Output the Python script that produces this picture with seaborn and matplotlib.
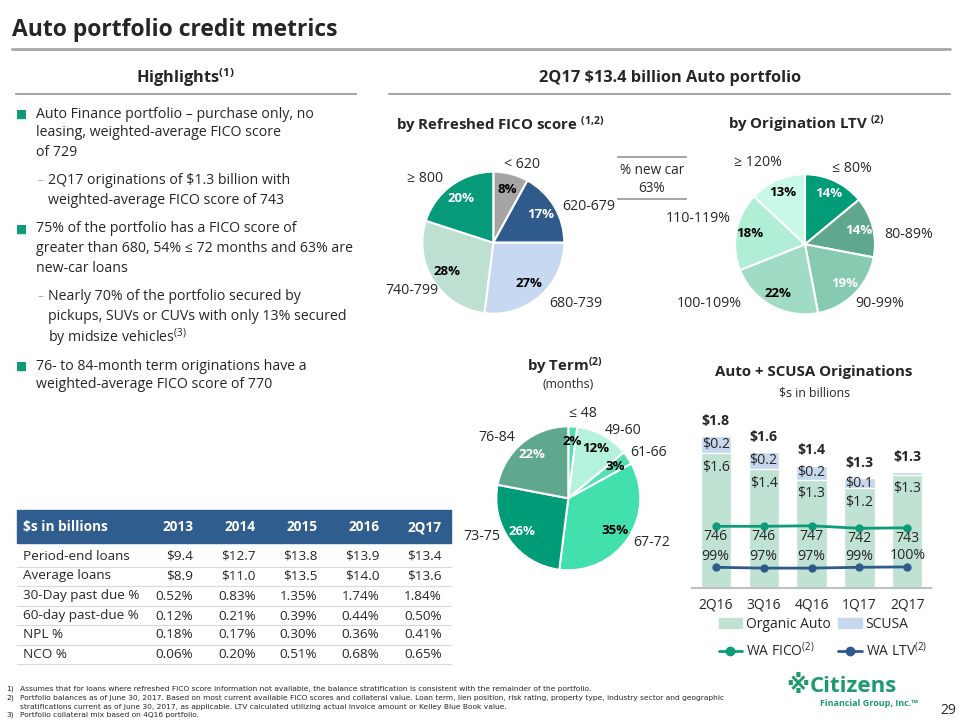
import numpy as np
import pandas as pd
import matplotlib
matplotlib.use("Agg")
import matplotlib.pyplot as plt
import seaborn as sns
from matplotlib.patches import Rectangle, Patch
from matplotlib.lines import Line2D

# ---- data ----
fico_labels = ["< 620", "620-679", "680-739", "740-799", "≥ 800"]
fico_pct = [8, 17, 27, 28, 20]
ltv_labels = ["≤ 80%", "80-89%", "90-99%", "100-109%", "110-119%", "≥ 120%"]
ltv_pct = [14, 14, 19, 22, 18, 13]
term_labels = ["≤ 48", "49-60", "61-66", "67-72", "73-75", "76-84"]
term_pct = [2, 12, 3, 35, 26, 22]

quarters = ["2Q16", "3Q16", "4Q16", "1Q17", "2Q17"]
organic = [1.60, 1.41, 1.28, 1.18, 1.34]
scusa = [0.20, 0.20, 0.17, 0.12, 0.03]
total_labels = ["$1.8", "$1.6", "$1.4", "$1.3", "$1.3"]
scusa_labels = ["$0.2", "$0.2", "$0.2", "$0.1", ""]
organic_labels = ["$1.6", "$1.4", "$1.3", "$1.2", "$1.3"]
wa_fico = [746, 746, 747, 742, 743]
wa_ltv = [99, 97, 97, 99, 100]

years = ["2013", "2014", "2015", "2016", "2Q17"]
row_names = ["Period-end loans", "Average loans", "30-Day past due %",
             "60-day past-due %", "NPL %", "NCO %"]
period_end = [9.4, 12.7, 13.8, 13.9, 13.4]
avg_loans = [8.9, 11.0, 13.5, 14.0, 13.6]
dpd30 = [0.52, 0.83, 1.35, 1.74, 1.84]
dpd60 = [0.12, 0.21, 0.39, 0.44, 0.50]
npl = [0.18, 0.17, 0.30, 0.36, 0.41]
nco = [0.06, 0.20, 0.51, 0.68, 0.65]

table = pd.DataFrame(
    [[f"${v:.1f}" for v in period_end],
     [f"${v:.1f}" for v in avg_loans],
     [f"{v:.2f}%" for v in dpd30],
     [f"{v:.2f}%" for v in dpd60],
     [f"{v:.2f}%" for v in npl],
     [f"{v:.2f}%" for v in nco]],
    index=row_names, columns=years)

# ---- style ----
sns.set_style("white")
FONT = ["Open Sans", "DejaVu Sans"]
plt.rcParams["font.family"] = FONT
plt.rcParams["mathtext.fontset"] = "custom"
plt.rcParams["mathtext.rm"] = "Open Sans"
plt.rcParams["mathtext.bf"] = "Open Sans:bold"
plt.rcParams["mathtext.default"] = "regular"

W, H = 960, 720
GREEN = "#0E9B78"
BLUE = "#2F5B8C"
GRAY = "#A6A6A6"

fig = plt.figure(figsize=(9.6, 7.2), dpi=100)


def px(x, y):
    return x / W, 1 - y / H


def txt(x, y, s, **kw):
    kw.setdefault("va", "center")
    fig.text(*px(x, y), s, **kw)


def hline(x0, x1, y, color=GRAY, lw=1.5):
    fig.add_artist(Line2D([x0 / W, x1 / W], [1 - y / H, 1 - y / H],
                          color=color, lw=lw, transform=fig.transFigure))


# ---- headers ----
txt(12, 30, "Auto portfolio credit metrics", fontsize=16.5, fontweight="bold")
hline(12, 950, 49, lw=2)
txt(185, 78, r"Highlights$^{(1)}$", fontsize=11.8, fontweight="bold", ha="center")
hline(16, 356, 94)
txt(670, 78, "2Q17 $13.4 billion Auto portfolio", fontsize=11.8, fontweight="bold", ha="center")
hline(389, 950, 94)

# ---- highlights text ----
lines = [
    (0, 114, "Auto Finance portfolio – purchase only, no", True),
    (0, 133, "leasing, weighted-average FICO score", False),
    (0, 153, "of 729", False),
    (1, 181, "2Q17 originations of $1.3 billion with", True),
    (1, 200, "weighted-average FICO score of 743", False),
    (0, 229, "75% of the portfolio has a FICO score of", True),
    (0, 249, "greater than 680, 54% ≤ 72 months and 63% are", False),
    (0, 269, "new-car loans", False),
    (1, 297, "Nearly 70% of the portfolio secured by", True),
    (1, 317, "pickups, SUVs or CUVs with only 13% secured", False),
    (1, 338, r"by midsize vehicles$^{(3)}$", False),
    (0, 366, "76- to 84-month term originations have a", True),
    (0, 385, "weighted-average FICO score of 770", False),
]
for lvl, y, s, first in lines:
    x = 36 if lvl == 0 else 48
    txt(x, y, s, fontsize=10.2)
    if first and lvl == 0:
        txt(16, y, "■", fontsize=8.5, color=GREEN, family=["DejaVu Sans"])
    elif first:
        txt(38, y, "–", fontsize=8.5, color="#7FBFA8")


# ---- pies ----
def pie(cx, cy, r, vals, colors, tcolors, dist):
    ax = fig.add_axes([(cx - r) / W, 1 - (cy + r) / H, 2 * r / W, 2 * r / H])
    _, _, autos = ax.pie(vals, colors=colors, startangle=90, counterclock=False,
                         autopct=lambda p: f"{p:.0f}%", pctdistance=dist,
                         wedgeprops=dict(edgecolor="white", linewidth=1.5),
                         textprops=dict(fontsize=9.5, fontweight="bold"))
    for a, c in zip(autos, tcolors):
        a.set_color(c)
    ax.set_xlim(-1, 1)
    ax.set_ylim(-1, 1)
    ax.axis("off")
    return ax


pie(493.3, 242.7, 71, fico_pct,
    ["#A5A5A5", BLUE, "#C6D9F1", "#BEE0D0", "#06997A"],
    ["black", "white", "black", "black", "white"], 0.77)
pie(805, 244.3, 70, ltv_pct,
    ["#009B77", "#5FA88D", "#86CAB0", "#9FDCC3", "#B0EFD6", "#C8F8E6"],
    ["white", "white", "white", "black", "black", "black"], 0.8)
pie(568.3, 498.3, 72, term_pct,
    ["#52DDB2", "#B4F2DC", "#55DFB2", "#42E0AC", "#009B77", "#5FA88D"],
    ["black", "black", "black", "black", "white", "white"], 0.79)

fico_pos = [(521.7, 165, "center"), (562, 206, "left"), (549, 303, "left"),
            (438, 290, "right"), (442.7, 179, "right")]
ltv_pos = [(851.7, 168, "center"), (884.3, 235, "left"), (880, 303, "center"),
           (741.7, 303, "right"), (730.7, 218, "right"), (758.3, 163, "center")]
term_pos = [(583.3, 414, "center"), (623.3, 431, "center"), (649, 453, "center"),
            (651.7, 543, "center"), (482, 537, "center"), (497, 438, "center")]
for labs, pos in [(fico_labels, fico_pos), (ltv_labels, ltv_pos), (term_labels, term_pos)]:
    for lab, (x, y, ha) in zip(labs, pos):
        txt(x, y, lab, fontsize=10.2, ha=ha)

txt(500, 125, r"by Refreshed FICO score $^{(1{,}2)}$", fontsize=10.8, fontweight="bold", ha="center")
txt(806, 124, r"by Origination LTV $^{(2)}$", fontsize=10.8, fontweight="bold", ha="center")
txt(565, 366, r"by Term$^{(2)}$", fontsize=10.8, fontweight="bold", ha="center")
txt(568, 385, "(months)", fontsize=8.8, ha="center")

hline(618, 686, 157)
hline(618, 686, 199)
txt(652, 170, "% new car", fontsize=9.8, ha="center")
txt(652, 189, "63%", fontsize=9.8, ha="center")

# ---- originations bar chart ----
x0, x1, base, ppu = 691.75, 931.3, 587.7, 84.1
ax = fig.add_axes([x0 / W, 1 - base / H, (x1 - x0) / W, 185 / H])
totals = [o + s for o, s in zip(organic, scusa)]
sns.barplot(x=quarters, y=totals, color="#C6D8F0", width=0.63, saturation=1, ax=ax)
sns.barplot(x=quarters, y=organic, color="#C0E2D2", width=0.63, saturation=1, ax=ax)
for i in range(len(quarters)):
    ax.annotate(total_labels[i], (i, totals[i]), xytext=(0, 11), textcoords="offset points",
                ha="center", va="center", fontsize=10.2, fontweight="bold")
    if scusa_labels[i]:
        ax.text(i, organic[i] + scusa[i] / 2, scusa_labels[i], ha="center", va="center", fontsize=10.2)
    ax.annotate(organic_labels[i], (i, organic[i]), xytext=(0, -10), textcoords="offset points",
                ha="center", va="center", fontsize=10.2)
ax.set_ylim(0, 185 / ppu)
ax.set_ylabel("")
ax.set_yticks([])
ax.tick_params(axis="x", length=0, pad=7, labelsize=10)
for s in ["left", "right", "top"]:
    ax.spines[s].set_visible(False)
ax.spines["bottom"].set_color("#BFBFBF")
ax.spines["bottom"].set_linewidth(1.5)

xs = np.arange(len(quarters))
axf = ax.twinx()
sns.lineplot(x=xs, y=wa_fico, ax=axf, color=GREEN, marker="o", markersize=6,
             markeredgewidth=0, linewidth=2)
axf.set_ylim(623.2, 623.2 + 185 / 0.5)
for i, v in enumerate(wa_fico):
    axf.annotate(str(v), (i, v), xytext=(0, -7.5), textcoords="offset points",
                 ha="center", va="center", fontsize=10.2)
axl = ax.twinx()
sns.lineplot(x=xs, y=wa_ltv, ax=axl, color=BLUE, marker="o", markersize=6,
             markeredgewidth=0, linewidth=2)
axl.set_ylim(48, 48 + 185 / 0.4)
for i, v in enumerate(wa_ltv):
    axl.annotate(f"{v}%", (i, v), xytext=(0, 8), textcoords="offset points",
                 ha="center", va="center", fontsize=10.2)
for a in (axf, axl):
    a.axis("off")
ax.set_xlim(-0.5, 4.5)

handles = [Patch(color="#C0E2D2"),
           Line2D([], [], color=GREEN, marker="o", markersize=6, lw=2),
           Patch(color="#C6D8F0"),
           Line2D([], [], color=BLUE, marker="o", markersize=6, lw=2)]
labels = ["Organic Auto", r"WA FICO$^{(2)}$", "SCUSA", r"WA LTV$^{(2)}$"]
fig.legend(handles, labels, ncol=2, frameon=False, fontsize=10,
           loc="upper left", bbox_to_anchor=px(706, 604), handlelength=1.7,
           handletextpad=0.3, columnspacing=0.5, labelspacing=0.7)

txt(814, 372, "Auto + SCUSA Originations", fontsize=10.8, fontweight="bold", ha="center")
txt(815, 393, "$s in billions", fontsize=8.8, ha="center")

# ---- credit table ----
fig.add_artist(Rectangle(px(17.3, 542.7), 433.4 / W, 32.7 / H, color="#2F5D8E",
                         transform=fig.transFigure))
col_right = [193.3, 256, 317.3, 379.3, 441.7]
txt(22.7, 527, "$s in billions", fontsize=9.8, fontweight="bold", color="white")
for x, yr in zip(col_right, table.columns):
    txt(x, 527, yr, fontsize=9.8, fontweight="bold", color="white", ha="right")
row_y = [556, 576, 596, 616, 635, 654.5]
for y, (name, row) in zip(row_y, table.iterrows()):
    txt(22.7, y, name, fontsize=9.7)
    for x, val in zip(col_right, row):
        txt(x, y, val, fontsize=9.7, ha="right")
for y in [566.7, 585.7, 605.7, 625.3, 644.7, 663.5]:
    hline(17.3, 450.7, y, color="#D9D9D9", lw=0.8)

# ---- footnotes / logo ----
NARROW = ["Liberation Sans Narrow", "DejaVu Sans"]
notes = [
    (689, "1)", "Assumes that for loans where refreshed FICO score information not available, the balance stratification is consistent with the remainder of the portfolio."),
    (698, "2)", "Portfolio balances as of June 30, 2017. Based on most current available FICO scores and collateral value. Loan term, lien position, risk rating, property type, industry sector and geographic"),
    (706.5, "", "stratifications current as of June 30, 2017, as applicable. LTV calculated utilizing actual invoice amount or Kelley Blue Book value."),
    (715, "3)", "Portfolio collateral mix based on 4Q16 portfolio."),
]
for y, n, s in notes:
    txt(6, y, n, fontsize=5.4, family=NARROW)
    txt(20, y, s, fontsize=5.4, family=NARROW)

LOGO = "#1E9B6E"
txt(786, 686, "※", fontsize=17, fontweight="bold", color=LOGO, family=["DejaVu Sans"])
txt(810, 686, "Citizens", fontsize=16, fontweight="bold", color=LOGO)
txt(820, 703, "Financial Group, Inc.™", fontsize=6.5, fontweight="bold", color=LOGO)
txt(940, 711, "29", fontsize=10)

fig.savefig("out.png", dpi=100)
